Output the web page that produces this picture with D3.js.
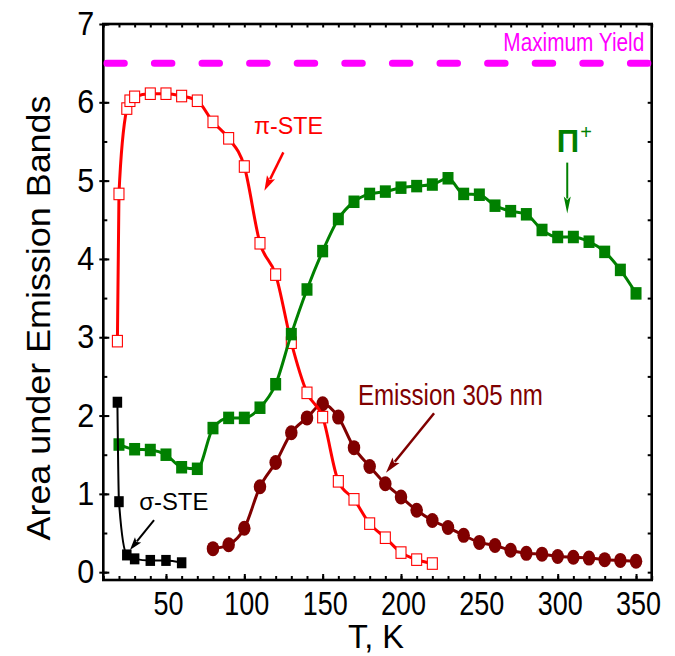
<!DOCTYPE html>
<html>
<head>
<meta charset="utf-8">
<script src="https://cdn.jsdelivr.net/npm/d3@7"></script>
<style>
  html, body { margin: 0; padding: 0; background: #fff; }
  svg { display: block; }
  text { font-family: "Liberation Sans", Arial, sans-serif; }
</style>
</head>
<body>
<svg id="chart" width="675" height="656"></svg>
<script>
// ---------------- data ----------------
const tempPiSTE = [19, 20, 25, 27, 30, 40, 50, 60, 70, 80, 90, 100, 110, 120, 130, 140, 150, 160, 170, 180, 190, 200, 210, 220];
const piSTE     = [2.95, 4.83, 5.92, 6.02, 6.07, 6.11, 6.11, 6.08, 6.02, 5.75, 5.54, 5.18, 4.20, 3.80, 2.93, 2.29, 1.98, 1.16, 0.93, 0.62, 0.44, 0.25, 0.16, 0.11];

const tempPiPlus = [20, 30, 40, 50, 60, 70, 80, 90, 100, 110, 120, 130, 140, 150, 160, 170, 180, 190, 200, 210, 220, 230, 240, 250, 260, 270, 280, 290, 300, 310, 320, 330, 340, 350];
const piPlus     = [1.63, 1.57, 1.56, 1.50, 1.34, 1.32, 1.84, 1.97, 1.97, 2.10, 2.40, 3.04, 3.61, 4.10, 4.51, 4.73, 4.83, 4.86, 4.91, 4.93, 4.95, 5.03, 4.83, 4.82, 4.68, 4.61, 4.57, 4.37, 4.28, 4.28, 4.22, 4.09, 3.86, 3.56];

const tempSigmaSTE = [19, 20, 25, 30, 40, 50, 60];
const sigmaSTE     = [2.17, 0.90, 0.22, 0.17, 0.15, 0.15, 0.12];

const tempEmission = [80, 90, 100, 110, 120, 130, 140, 150, 160, 170, 180, 190, 200, 210, 220, 230, 240, 250, 260, 270, 280, 290, 300, 310, 320, 330, 340, 350];
const emission305  = [0.30, 0.35, 0.56, 1.09, 1.40, 1.78, 1.97, 2.15, 1.98, 1.59, 1.35, 1.13, 0.96, 0.79, 0.66, 0.57, 0.47, 0.38, 0.34, 0.28, 0.24, 0.23, 0.20, 0.19, 0.18, 0.16, 0.15, 0.14];

const maximumYield = 6.5;

const xTickLabels = [50, 100, 150, 200, 250, 300, 350];
const yTickLabels = [0, 1, 2, 3, 4, 5, 6, 7];

// ---------------- layout ----------------
const svg = d3.select("#chart");
const L = 103.3, R = 651.7, T = 24, B = 580;
const x = d3.scaleLinear().domain([10, 360]).range([L, R]);
const y = d3.scaleLinear().domain([-0.1, 7]).range([B, T]);

const COL = { red: "#ff0000", green: "#008000", black: "#000000", maroon: "#800000", magenta: "#ff00ff" };

// ---------- axes ----------
const fontTick = 33;
function styleAxis(g) { g.select(".domain").remove(); g.selectAll("line").attr("stroke", "#000").attr("stroke-width", 2); }

svg.append("g").attr("transform", `translate(0,${B})`)
  .call(d3.axisBottom(x).tickValues(d3.range(10, 361, 10)).tickSize(-4).tickFormat(""))
  .call(styleAxis);
const gxb = svg.append("g").attr("transform", `translate(0,${B})`)
  .call(d3.axisBottom(x).tickValues(xTickLabels).tickSize(-6).tickPadding(12).tickFormat(d3.format("d")))
  .call(styleAxis);
gxb.selectAll("text").attr("font-size", fontTick).attr("fill", "#000")
  .attr("font-family", "Liberation Sans, Arial, sans-serif")
  .attr("textLength", d => String(d).length * 15).attr("lengthAdjust", "spacingAndGlyphs")
  .attr("dx", 2);
svg.append("g").attr("transform", `translate(0,${T})`)
  .call(d3.axisTop(x).tickValues(d3.range(10, 361, 10)).tickSize(-3.5).tickFormat(""))
  .call(styleAxis);
svg.append("g").attr("transform", `translate(${L},0)`)
  .call(d3.axisLeft(y).tickValues(d3.range(0, 7.01, 0.5)).tickSize(-4).tickFormat(""))
  .call(styleAxis);
const gyl = svg.append("g").attr("transform", `translate(${L},0)`)
  .call(d3.axisLeft(y).tickValues(yTickLabels).tickSize(4).tickPadding(5).tickFormat(d3.format("d")))
  .call(styleAxis);
gyl.selectAll(".tick line").attr("x1", 6).attr("x2", -4);
gyl.selectAll("text").attr("font-size", fontTick).attr("fill", "#000")
  .attr("font-family", "Liberation Sans, Arial, sans-serif")
  .attr("textLength", 17).attr("lengthAdjust", "spacingAndGlyphs");
svg.append("g").attr("transform", `translate(${R},0)`)
  .call(d3.axisRight(y).tickValues(d3.range(0, 7.01, 0.5)).tickSize(-4).tickFormat(""))
  .call(styleAxis);

svg.append("rect").attr("x", L).attr("y", T).attr("width", R - L).attr("height", B - T)
  .attr("fill", "none").attr("stroke", "#000").attr("stroke-width", 2.6);

svg.append("text").attr("x", 376).attr("y", 648).attr("text-anchor", "middle")
  .attr("font-size", 33).attr("textLength", 56).attr("lengthAdjust", "spacingAndGlyphs").text("T, K");
svg.append("text").attr("transform", "translate(50,318) rotate(-90)").attr("text-anchor", "middle")
  .attr("font-size", 34).attr("textLength", 445).attr("lengthAdjust", "spacingAndGlyphs")
  .text("Area under Emission Bands");

svg.append("clipPath").attr("id", "plotclip").append("rect")
  .attr("x", L).attr("y", T).attr("width", R - L).attr("height", B - T);

svg.append("line").attr("clip-path", "url(#plotclip)")
  .attr("x1", x(10) + 3.5).attr("x2", R + 30).attr("y1", y(maximumYield)).attr("y2", y(maximumYield))
  .attr("stroke", COL.magenta).attr("stroke-width", 7).attr("stroke-linecap", "round")
  .attr("stroke-dasharray", "17.5 30.1");
svg.append("text").attr("transform", `translate(${x(265.3)},${y(6.66)}) scale(0.8,1)`)
  .attr("fill", COL.magenta).attr("font-size", 26)
  .text("Maximum Yield");

// ---------- series ----------
const line = d3.line().x(d => x(d[0])).y(d => y(d[1])).curve(d3.curveMonotoneX);
function series(temps, vals, color, lw, marker, opt) {
  const pts = temps.map((t, i) => [t, vals[i]]);
  const g = svg.append("g");
  g.append("path").datum(pts).attr("d", line).attr("fill", "none").attr("stroke", color).attr("stroke-width", lw);
  if (marker === "ellipse") {
    g.selectAll("ellipse").data(pts).join("ellipse")
      .attr("cx", d => x(d[0])).attr("cy", d => y(d[1])).attr("rx", opt.w / 2).attr("ry", opt.h / 2)
      .attr("fill", color);
  } else {
    g.selectAll("rect").data(pts).join("rect")
      .attr("x", d => x(d[0]) - opt.w / 2).attr("y", d => y(d[1]) - opt.h / 2)
      .attr("width", opt.w).attr("height", opt.h)
      .attr("fill", opt.open ? "#fff" : color).attr("stroke", opt.open ? color : "none").attr("stroke-width", 1.1);
  }
}
series(tempEmission, emission305, COL.maroon, 3, "ellipse", { w: 12.5, h: 15 });
series(tempPiSTE, piSTE, COL.red, 3, "rect", { w: 10, h: 11.5, open: true });
series(tempPiPlus, piPlus, COL.green, 3, "rect", { w: 11, h: 12.5 });
series(tempSigmaSTE, sigmaSTE, COL.black, 2, "rect", { w: 9.5, h: 11 });

// ---------- annotations ----------
function arrow(t0, v0, t1, v1, color, lw, headLen, headW) {
  const x0 = x(t0), y0 = y(v0), x1 = x(t1), y1 = y(v1);
  const dx = x1 - x0, dy = y1 - y0, len = Math.hypot(dx, dy), ux = dx / len, uy = dy / len;
  const bx = x1 - ux * headLen, by = y1 - uy * headLen;
  svg.append("line").attr("x1", x0).attr("y1", y0).attr("x2", bx + ux * 2).attr("y2", by + uy * 2)
    .attr("stroke", color).attr("stroke-width", lw);
  svg.append("polygon").attr("fill", color)
    .attr("points", [[x1, y1], [bx - uy * headW / 2, by + ux * headW / 2], [bx + ux * headLen * 0.2, by + uy * headLen * 0.2], [bx + uy * headW / 2, by - ux * headW / 2]].map(p => p.join(",")).join(" "));
}
function label(t, v, txt, color, size, width) {
  svg.append("text").attr("x", x(t)).attr("y", y(v)).attr("fill", color).attr("font-size", size)
    .attr("textLength", width).attr("lengthAdjust", "spacingAndGlyphs").text(txt);
}
label(106.2, 5.59, "π-STE", COL.red, 24, 69);
arrow(124.9, 5.36, 112.8, 4.87, COL.red, 2.5, 15, 9);

const piText = svg.append("text").attr("x", x(299.4)).attr("y", y(5.37)).attr("fill", COL.green);
piText.append("tspan").attr("font-size", 31).attr("font-weight", "bold").text("Π");
piText.append("tspan").attr("font-size", 20).attr("dx", 1).attr("dy", -13).text("+");
arrow(306.1, 5.23, 306.1, 4.58, COL.green, 2, 17, 7);

label(172.5, 2.13, "Emission 305 nm", COL.maroon, 29, 185);
arrow(221.1, 2.03, 190.4, 1.27, COL.maroon, 2.5, 16, 9);

label(33, 0.80, "σ-STE", COL.black, 24, 69);
arrow(42.4, 0.666, 27.0, 0.283, COL.black, 2, 13, 8);
</script>
</body>
</html>
